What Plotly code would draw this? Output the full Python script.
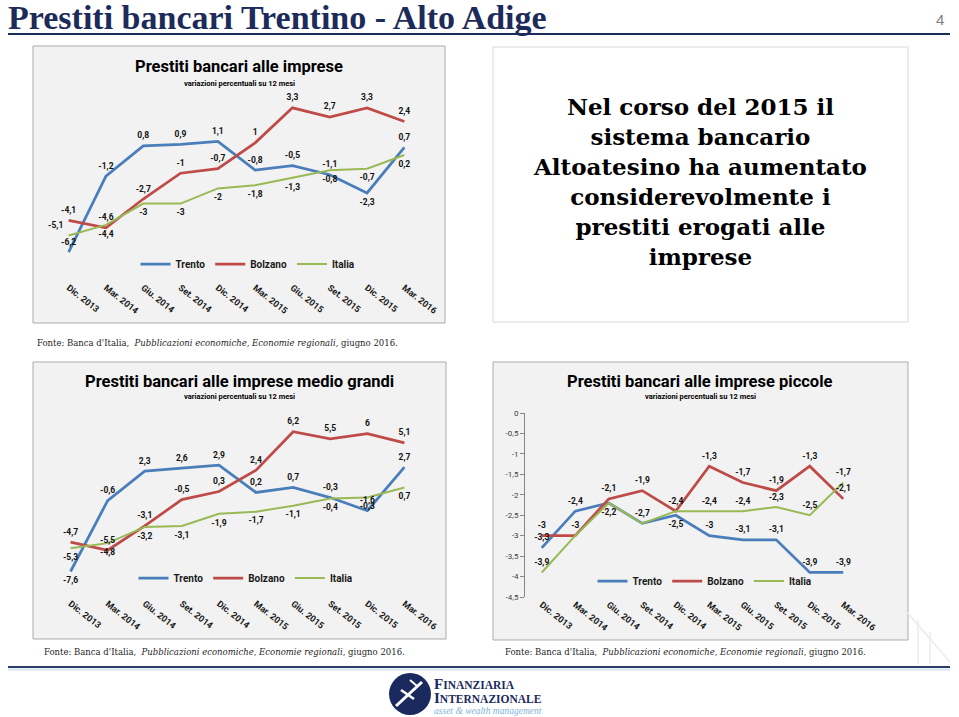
import plotly.graph_objects as go

W, H = 959, 717

# ---------------- data ----------------
categories = ["Dic. 2013", "Mar. 2014", "Giu. 2014", "Set. 2014", "Dic. 2014",
              "Mar. 2015", "Giu. 2015", "Set. 2015", "Dic. 2015", "Mar. 2016"]

imprese_trento = [-6.2, -1.2, 0.8, 0.9, 1.1, -0.8, -0.5, -1.1, -2.3, 0.7]
imprese_bolzano = [-4.1, -4.6, -2.7, -1.0, -0.7, 1.0, 3.3, 2.7, 3.3, 2.4]
imprese_italia = [-5.1, -4.4, -3.0, -3.0, -2.0, -1.8, -1.3, -0.8, -0.7, 0.2]

mg_trento = [-7.6, -0.6, 2.3, 2.6, 2.9, 0.2, 0.7, -0.3, -1.6, 2.7]
mg_bolzano = [-4.7, -5.5, -3.1, -0.5, 0.3, 2.4, 6.2, 5.5, 6.0, 5.1]
mg_italia = [-5.3, -4.8, -3.2, -3.1, -1.9, -1.7, -1.1, -0.4, -0.3, 0.7]

pic_trento = [-3.3, -2.4, -2.2, -2.7, -2.5, -3.0, -3.1, -3.1, -3.9, -3.9]
pic_bolzano = [-3.0, -3.0, -2.1, -1.9, -2.4, -1.3, -1.7, -1.9, -1.3, -2.1]
pic_italia = [-3.9, -3.0, -2.2, -2.7, -2.4, -2.4, -2.4, -2.3, -2.5, -1.7]

pic_yticks = [0, -0.5, -1, -1.5, -2, -2.5, -3, -3.5, -4, -4.5]

series_names = ["Trento", "Bolzano", "Italia"]

# ---------------- styling ----------------
COLORS = {"Trento": "#4A7EBB", "Bolzano": "#BE4B48", "Italia": "#98B954"}
WIDTHS = {"Trento": 2.75, "Bolzano": 2.75, "Italia": 2.0}
SANS = "Roboto, Arial, sans-serif"
SERIF = "DejaVu Serif, Georgia, serif"
NAVY = "#1c2b5a"

T, B, TL, N = "top center", "bottom center", "top left", None
pos1 = {"Trento": [T] * 8 + [B, T], "Bolzano": [T] * 10, "Italia": [TL] + [B] * 9}
pos2 = {"Trento": [B] + [T] * 9, "Bolzano": [T] * 10, "Italia": [B] * 10}
pos3 = {"Trento": [T, T, N, T, B, T, T, T, T, T],
        "Bolzano": [T] * 10,
        "Italia": [T, N, B, N, N, T, T, T, T, T]}


def px(x):
    return x / W


def py(y):
    return 1 - y / H


def lab(v):
    return f"{v:g}".replace(".", ",")


fig = go.Figure()


def add_chart(data, positions, xa, ya, legend):
    for name in series_names:
        vals = data[name]
        fig.add_trace(go.Scatter(
            x=categories, y=vals, mode="lines", name=name,
            line=dict(color=COLORS[name], width=WIDTHS[name]),
            xaxis=xa, yaxis=ya, legend=legend, showlegend=True,
            hoverinfo="skip"))
    for name in series_names:
        vals = data[name]
        p = positions[name]
        fig.add_trace(go.Scatter(
            x=categories, y=vals, mode="markers+text",
            marker=dict(size=7, color="rgba(0,0,0,0)"),
            text=[lab(v) if q else "" for v, q in zip(vals, p)],
            textposition=[q if q else T for q in p],
            textfont=dict(family=SANS, size=8.5, color="#111111", weight="bold"),
            xaxis=xa, yaxis=ya, showlegend=False, cliponaxis=False,
            hoverinfo="skip"))


add_chart({"Trento": imprese_trento, "Bolzano": imprese_bolzano, "Italia": imprese_italia},
          pos1, "x", "y", "legend")
add_chart({"Trento": mg_trento, "Bolzano": mg_bolzano, "Italia": mg_italia},
          pos2, "x2", "y2", "legend2")
add_chart({"Trento": pic_trento, "Bolzano": pic_bolzano, "Italia": pic_italia},
          pos3, "x3", "y3", "legend3")

# ---------------- axes ----------------
n = len(categories)
xr = [-0.5, n - 0.5]
bounds = [i - 0.5 for i in range(n + 1)]

tickfont = dict(family=SANS, size=9, color="#1a1a1a", weight="bold")
xcommon = dict(type="category", range=xr, showgrid=False, showline=False, ticks="",
               zeroline=False, tickangle=38, tickfont=tickfont, fixedrange=True,
               automargin=False)

d1x, d1y, r1 = [px(50), px(423)], [py(280), py(98)], [-8.03, 3.95]
d2x, d2y, r2 = [px(52), px(423)], [py(596), py(415)], [-10.02, 7.85]
d3x, d3y, r3 = [px(525), px(860)], [py(597), py(413)], [-4.5, 0]


def zero_pos(dy, r):
    return dy[0] + (0 - r[0]) / (r[1] - r[0]) * (dy[1] - dy[0])


axis_line = dict(type="linear", range=xr, tickmode="array", tickvals=bounds,
                 showline=True, linecolor="#868686", linewidth=1, ticks="outside",
                 ticklen=4, tickcolor="#868686", showticklabels=False,
                 showgrid=False, zeroline=False, fixedrange=True, automargin=False)

fig.update_layout(
    xaxis=dict(domain=d1x, anchor="y", **xcommon),
    yaxis=dict(domain=d1y, anchor="x", range=r1, visible=False, fixedrange=True,
               automargin=False),
    xaxis2=dict(domain=d2x, anchor="y2", **xcommon),
    yaxis2=dict(domain=d2y, anchor="x2", range=r2, visible=False, fixedrange=True,
                automargin=False),
    xaxis3=dict(domain=d3x, anchor="y3", **xcommon),
    yaxis3=dict(domain=d3y, anchor="x3", range=r3, showgrid=False, zeroline=False,
                showline=True, linecolor="#868686", linewidth=1, ticks="outside",
                ticklen=4, tickcolor="#868686", tickmode="array", tickvals=pic_yticks,
                ticktext=[lab(v) for v in pic_yticks],
                tickfont=dict(family=SANS, size=8, color="#404040"), fixedrange=True,
                automargin=False),
    xaxis4=dict(overlaying="x", anchor="free", position=zero_pos(d1y, r1), **axis_line),
    xaxis5=dict(overlaying="x2", anchor="free", position=zero_pos(d2y, r2), **axis_line),
    xaxis6=dict(overlaying="x3", anchor="y3", side="top",
                **{**axis_line, "ticks": "inside"}),
)

legfont = dict(family=SANS, size=10, color="#1a1a1a", weight="bold")
legcommon = dict(orientation="h", xanchor="center", yanchor="middle", font=legfont,
                 bgcolor="rgba(0,0,0,0)", itemwidth=30, tracegroupgap=0)
fig.update_layout(
    legend=dict(x=px(248), y=py(264), **legcommon),
    legend2=dict(x=px(246), y=py(578), **legcommon),
    legend3=dict(x=px(705), y=py(581), **legcommon),
)

# ---------------- shapes ----------------
shapes = []


def box(x0, y0, x1, y1, fill, line):
    shapes.append(dict(type="rect", xref="paper", yref="paper", x0=px(x0), x1=px(x1),
                       y0=py(y1), y1=py(y0), fillcolor=fill,
                       line=dict(color=line, width=1), layer="below"))


box(33, 46, 445, 323, "#F2F2F2", "#ABABAB")
box(33, 362, 446, 639, "#F2F2F2", "#ABABAB")
box(493, 362, 908, 640, "#F2F2F2", "#ABABAB")
box(493, 47, 908, 322, "#FFFFFF", "#D9D9D9")


def hline(x0, x1, y, color, width):
    shapes.append(dict(type="line", xref="paper", yref="paper", x0=px(x0), x1=px(x1),
                       y0=py(y), y1=py(y), line=dict(color=color, width=width)))


hline(8, 950, 34, NAVY, 2)
hline(8, 950, 667, "#2a3d6b", 2)
hline(8, 950, 669.5, "#d6e6f2", 2)

# logo emblem
shapes.append(dict(type="circle", xref="paper", yref="paper",
                   x0=px(389), x1=px(431), y0=py(715), y1=py(673),
                   fillcolor="#1B2A5E", line=dict(width=0), layer="above"))
for (a, b, c, d, w) in [(396, 706, 422, 682, 3), (401, 690, 414, 699, 2.5),
                        (410, 680, 417, 686, 2)]:
    shapes.append(dict(type="line", xref="paper", yref="paper", x0=px(a), y0=py(b),
                       x1=px(c), y1=py(d), line=dict(color="white", width=w)))

# faint watermark lines at bottom right
for (a, b, c, d) in [(905, 610, 950, 662), (918, 620, 918, 664), (930, 632, 930, 664)]:
    shapes.append(dict(type="line", xref="paper", yref="paper", x0=px(a), y0=py(b),
                       x1=px(c), y1=py(d), line=dict(color="#ececec", width=1.5),
                       layer="below"))

fig.update_layout(shapes=shapes)

# ---------------- annotations ----------------
ann = []


def text(x, y, s, size, family=SANS, color="#000000", xanchor="center", weight="normal"):
    ann.append(dict(xref="paper", yref="paper", x=px(x), y=py(y), text=s, showarrow=False,
                    xanchor=xanchor, yanchor="middle",
                    font=dict(family=family, size=size, color=color, weight=weight)))


text(6, 17, "Prestiti bancari Trentino - Alto Adige", 34,
     family="Liberation Serif, Times New Roman, serif", color=NAVY, xanchor="left",
     weight="bold")
text(940, 20, "4", 15, family="Liberation Sans, Arial, sans-serif", color="#808080")

text(239, 66, "Prestiti bancari alle imprese", 16.5, weight="bold")
text(239, 83, "variazioni percentuali su 12 mesi", 7.5, weight="bold")
text(239, 381, "Prestiti bancari alle imprese medio grandi", 16.5, weight="bold")
text(239, 397, "variazioni percentuali su 12 mesi", 7.5, weight="bold")
text(700, 381, "Prestiti bancari alle imprese piccole", 16.5, weight="bold")
text(700, 397, "variazioni percentuali su 12 mesi", 7.5, weight="bold")

text(700, 181, "Nel corso del 2015 il<br>sistema bancario<br>Altoatesino ha aumentato"
               "<br>considerevolmente i<br>prestiti erogati alle<br>imprese",
     23, family=SERIF, color="#000000", weight="bold")

fonte = "Fonte: Banca d'Italia,  <i>Pubblicazioni economiche, Economie regionali</i>, giugno 2016."
text(35, 343, fonte, 8.5, family=SERIF, color="#262626", xanchor="left")
text(42, 652, fonte, 8.5, family=SERIF, color="#262626", xanchor="left")
text(503, 652, fonte, 8.5, family=SERIF, color="#262626", xanchor="left")

LOGO_SERIF = "Liberation Serif, Times New Roman, serif"
text(432, 683.5, "<span style='font-size:15px'>F</span>INANZIARIA", 11.5,
     family=LOGO_SERIF, color="#1B2A5E", xanchor="left", weight="bold")
text(432, 697.5, "<span style='font-size:15px'>I</span>NTERNAZIONALE", 11.5,
     family=LOGO_SERIF, color="#1B2A5E", xanchor="left", weight="bold")
text(432, 710.5, "<i>asset &amp; wealth management</i>", 9.5,
     family=LOGO_SERIF, color="#7fb2d9", xanchor="left")

fig.update_layout(annotations=ann)

fig.update_layout(width=W, height=H,
                  margin=dict(l=0, r=0, t=0, b=0, pad=0, autoexpand=False),
                  paper_bgcolor="white", plot_bgcolor="white", showlegend=True)

fig.write_html("out.html", config={"displayModeBar": False},
               post_script="document.body.style.margin='0px';")
